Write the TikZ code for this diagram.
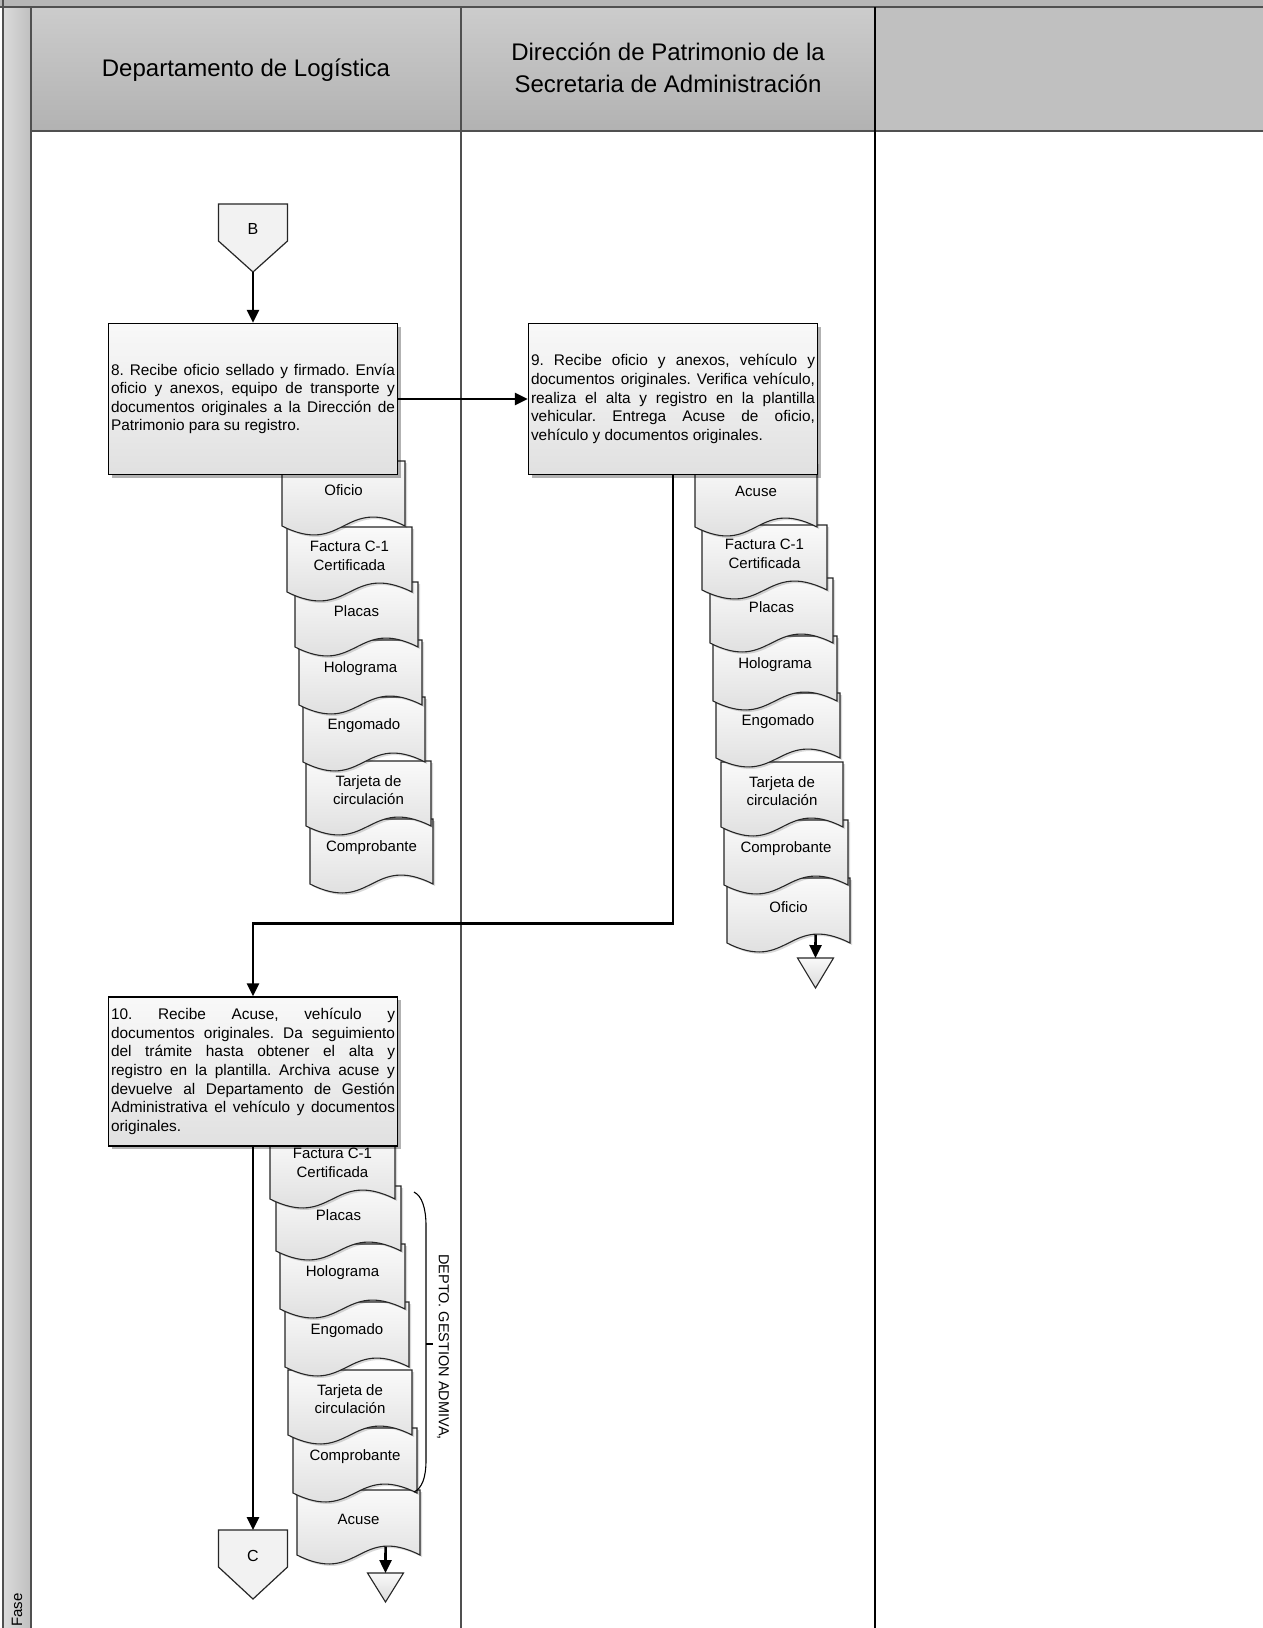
\documentclass[tikz,border=0pt]{standalone}
\usepackage{fontspec}
\setmainfont{Liberation Sans}
\usetikzlibrary{arrows.meta,shadows}
\frenchspacing

\definecolor{hdtop}{RGB}{204,204,204}
\definecolor{hdbot}{RGB}{178,178,178}
\definecolor{hdflat}{RGB}{192,192,192}
\definecolor{bandgray}{RGB}{182,182,182}
\definecolor{edgegray}{RGB}{80,80,80}

% document sheet: name, left, top, width, label
\newcommand{\docsheet}[5]{%
  \draw[docline] (#2,#3) -- (#2+#4,#3) -- (#2+#4,#3+65)
    .. controls (#2+#4/2,#3+34) and (#2+#4/2,#3+96) .. (#2,#3+65) -- cycle;
  \node[doclabel] (#1) at (#2+#4/2,#3+29) {#5};
  \coordinate (#1-out) at (#2+0.72*#4,#3+56.5);
}

\begin{document}
\begin{tikzpicture}[x=1pt,y=-1pt,
  laneline/.style={draw=edgegray,line width=1.4pt},
  hdtext/.style={font=\fontsize{24}{32}\selectfont,align=center},
  procbox/.style={draw=black,line width=1.4pt,rectangle,top color=gray!5,bottom color=gray!24,
    minimum width=289pt,minimum height=151pt,text width=284pt,inner sep=2.5pt,align=justify,
    font=\fontsize{15.4}{18.6}\selectfont,
    drop shadow={shadow xshift=3pt,shadow yshift=-3pt,opacity=0.3,fill=black}},
  docline/.style={draw=black!85,line width=1.1pt,top color=gray!4,bottom color=gray!30,
    drop shadow={shadow xshift=2pt,shadow yshift=-2pt,opacity=0.15,fill=black}},
  doclabel/.style={font=\fontsize{15}{18.5}\selectfont,align=center,inner sep=0pt},
  conn/.style={draw=black!85,line width=1.2pt,fill=gray!10},
  sink/.style={draw=black!85,line width=1.1pt,top color=gray!5,bottom color=gray!28},
  flow/.style={draw=black,line width=2.6pt,-{Triangle[length=13pt,width=12pt]}}]

  \useasboundingbox (0,0) rectangle (1263,1628);
  \clip (0,0) rectangle (1263,1628);
  \fill[white] (0,0) rectangle (1263,1628);

  % pool frame and lane headers
  \fill[bandgray] (0,0) rectangle (1263,7);
  \shade[left color=gray!28,right color=gray!50] (3,7) rectangle (31,1628);
  \shade[top color=hdtop,bottom color=hdbot] (31,7) rectangle (875,131);
  \fill[hdflat] (875,7) rectangle (1263,131);
  \draw[laneline] (0,7) -- (1263,7);
  \draw[laneline] (31,131) -- (1263,131);
  \draw[laneline] (3,0) -- (3,1628);
  \draw[laneline] (31,7) -- (31,1628);
  \draw[laneline] (461,7) -- (461,1628);
  \draw[draw=black,line width=1.4pt] (875,7) -- (875,1628);

  \node[hdtext] (lane1) at (246,70) {Departamento de Logística};
  \node[hdtext] (lane2) at (668,68) {Dirección de Patrimonio de la\\Secretaria de Administración};
  \node[rotate=90,anchor=east,font=\fontsize{15}{18}\selectfont] (fase) at (17,1590) {Fase};

  % documents sent by 8
  \docsheet{l7}{310}{819}{123}{Comprobante}
  \docsheet{l6}{306}{761}{125}{Tarjeta de\\circulación}
  \docsheet{l5}{303}{697}{122}{Engomado}
  \docsheet{l4}{299}{640}{123}{Holograma}
  \docsheet{l3}{295}{582}{123}{Placas}
  \docsheet{l2}{287}{527}{125}{Factura C-1\\Certificada}
  \docsheet{l1}{282}{461}{123}{Oficio}

  % documents handed back by 9
  \docsheet{r8}{727}{878}{123}{Oficio}
  \docsheet{r7}{724}{820}{124}{Comprobante}
  \docsheet{r6}{721}{762}{122}{Tarjeta de\\circulación}
  \docsheet{r5}{716}{693}{124}{Engomado}
  \docsheet{r4}{713}{636}{124}{Holograma}
  \docsheet{r3}{710}{578}{123}{Placas}
  \docsheet{r2}{702}{525}{125}{Factura C-1\\Certificada}
  \docsheet{r1}{695}{462}{122}{Acuse}

  % documents returned by 10
  \docsheet{b7}{297}{1490}{123}{Acuse}
  \docsheet{b6}{293}{1428}{124}{Comprobante}
  \docsheet{b5}{288}{1370}{124}{Tarjeta de\\circulación}
  \docsheet{b4}{285}{1302}{124}{Engomado}
  \docsheet{b3}{280}{1244}{125}{Holograma}
  \docsheet{b2}{276}{1186}{125}{Placas}
  \docsheet{b1}{270}{1134}{125}{Factura C-1\\Certificada}

  % archive triangles
  \coordinate (sinkR) at (815.5,958);
  \coordinate (sinkB) at (385.5,1573);
  \draw[sink] (797.5,958) -- (833.5,958) -- (815.5,988) -- cycle;
  \draw[sink] (367.5,1573) -- (403.5,1573) -- (385.5,1602) -- cycle;
  \draw[flow] (r8-out) -- (sinkR);
  \draw[flow] (b7-out) -- (sinkB);

  % activities
  \node[procbox] (b8) at (253,399) {8. Recibe oficio sellado y firmado. Envía\linebreak
    oficio y anexos, equipo de transporte y\linebreak
    documentos originales a la Dirección de\linebreak
    Patrimonio para su registro.};
  \node[procbox] (b9) at (673,399) {9. Recibe oficio y anexos, vehículo y\linebreak
    documentos originales. Verifica vehículo,\linebreak
    realiza el alta y registro en la plantilla\linebreak
    vehicular. Entrega Acuse de oficio,\linebreak
    vehículo y documentos originales.};
  \node[procbox,minimum height=149pt] (b10) at (253,1071.5) {10. Recibe Acuse, vehículo y\linebreak
    documentos originales. Da seguimiento\linebreak
    del trámite hasta obtener el alta y\linebreak
    registro en la plantilla. Archiva acuse y\linebreak
    devuelve al Departamento de Gestión\linebreak
    Administrativa el vehículo y documentos\linebreak
    originales.};

  % off-page connectors
  \draw[conn] (218.5,204) -- (287.5,204) -- (287.5,241) -- (253,272) -- (218.5,241) -- cycle;
  \node[font=\fontsize{16}{18}\selectfont] (conB) at (253,229) {B};
  \coordinate (conB-tip) at (253,272);
  \draw[conn] (218.5,1530) -- (287.5,1530) -- (287.5,1567) -- (253,1599) -- (218.5,1567) -- cycle;
  \node[font=\fontsize{16}{18}\selectfont] (conC) at (253,1556) {C};
  \coordinate (conC-top) at (253,1530);

  % flow
  \draw[flow] (conB-tip) -- (b8);
  \draw[flow] (b8.east) -- (b9.west);
  \draw[flow] (b9.south) -- ++(0,448) -| (b10.north);
  \draw[flow] (b10.south) -- (conC-top);

  % brace
  \draw[line width=1.1pt] (414,1192) .. controls (422,1196) and (426,1208) .. (426,1226)
    -- (426,1460) .. controls (426,1478) and (422,1488) .. (414,1492);
  \draw[line width=1.1pt] (426,1344) -- (433,1344);
  \node[rotate=-90,font=\fontsize{14.5}{18}\selectfont] (depto) at (443,1347) {DEPTO. GESTION ADMIVA,};
\end{tikzpicture}
\end{document}
